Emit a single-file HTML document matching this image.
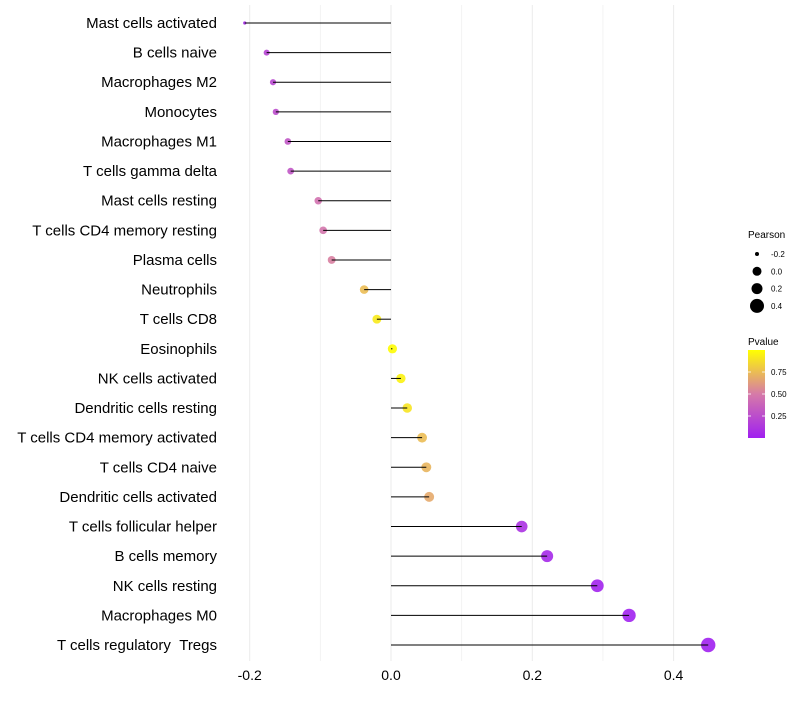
<!DOCTYPE html>
<html><head><meta charset="utf-8"><style>
body{margin:0;background:#fff;font-family:"Liberation Sans",sans-serif}
</style></head><body>
<svg id="c" width="800" height="700" xmlns="http://www.w3.org/2000/svg"></svg>
<script>
const categories=["Mast cells activated","B cells naive","Macrophages M2","Monocytes","Macrophages M1","T cells gamma delta","Mast cells resting","T cells CD4 memory resting","Plasma cells","Neutrophils","T cells CD8","Eosinophils","NK cells activated","Dendritic cells resting","T cells CD4 memory activated","T cells CD4 naive","Dendritic cells activated","T cells follicular helper","B cells memory","NK cells resting","Macrophages M0","T cells regulatory\u00a0\u00a0Tregs"];
const pearson=[-0.207,-0.176,-0.167,-0.163,-0.146,-0.142,-0.103,-0.096,-0.084,-0.038,-0.020,0.002,0.014,0.023,0.044,0.050,0.054,0.185,0.221,0.292,0.337,0.449];
const pvalue=[0.05,0.2,0.22,0.25,0.3,0.3,0.45,0.47,0.52,0.75,0.92,0.99,0.95,0.9,0.75,0.72,0.68,0.1,0.05,0.02,0.01,0.001];
const xTicks=[-0.2,0,0.2,0.4];
const xTickLabels=["-0.2","0.0","0.2","0.4"];
const minorTicks=[-0.1,0.1,0.3];
const sizeLegend=[-0.2,0,0.2,0.4];
const pTicks=[0.25,0.5,0.75];

const svg=document.getElementById('c');
const NS="http://www.w3.org/2000/svg";
function el(t,a,p){const e=document.createElementNS(NS,t);for(const k in a)e.setAttribute(k,a[k]);(p||svg).appendChild(e);return e;}
const x=v=>391+v*706.5;
const y=i=>23+i*(622/21);
function rad(v){if(v<-0.176){const t=Math.max(0,(v+0.21)/0.034);return 1.5+t*1.5;}
 return Math.sqrt(9+68.7*(v+0.176));}
function legRad(i){return [2,4.5,5.5,7][i];}
function col(p){const a=[160,32,240],m=[214,122,168],b=[255,255,0];let c;
 if(p<0.5){const t=p/0.5;c=a.map((v,i)=>v+t*(m[i]-v));}else{const t=(p-0.5)/0.5;c=m.map((v,i)=>v+t*(b[i]-v));}
 return `rgb(${c.map(Math.round).join(',')})`;}

minorTicks.forEach(v=>{const l=el('line',{x1:x(v),x2:x(v),y1:5,y2:661,stroke:'#f0f0f0','stroke-width':0.8});
});
xTicks.forEach((v,i)=>{const l=el('line',{x1:x(v),x2:x(v),y1:5,y2:661,stroke:'#ebebeb','stroke-width':1});

const t=el('text',{x:x(v),y:680,'text-anchor':'middle','font-size':14,fill:'#000'});t.textContent=xTickLabels[i];
});

categories.forEach((c,i)=>{
 const t=el('text',{x:217,y:y(i)+5,'text-anchor':'end','font-size':15,fill:'#000'});t.textContent=c;
 
 const d=el('circle',{cx:x(pearson[i]),cy:y(i),r:rad(pearson[i]),fill:col(pvalue[i]),'fill-opacity':0.9});
 
 const l=el('line',{x1:x(0),x2:x(pearson[i]),y1:y(i),y2:y(i),stroke:'#000','stroke-width':1});
 
});

let t=el('text',{x:748,y:238,'font-size':10,fill:'#000'});t.textContent="Pearson";

sizeLegend.forEach((v,i)=>{const yy=254+i*17.3;
 const c=el('circle',{cx:757,cy:yy,r:legRad(i),fill:'#000'});
 const tt=el('text',{x:771,y:yy+3,'font-size':8,fill:'#000'});tt.textContent=v.toFixed(1);
 });
t=el('text',{x:748,y:345,'font-size':10,fill:'#000'});t.textContent="Pvalue";

const defs=el('defs',{});const g=el('linearGradient',{id:'pg',x1:0,y1:1,x2:0,y2:0},defs);
[0,0.5,1].forEach(o=>el('stop',{offset:o,'stop-color':col(o)},g));
const r=el('rect',{x:748,y:350,width:17,height:88,fill:'url(#pg)'});

pTicks.forEach(p=>{const yy=438-p*88;
 el('line',{x1:748,x2:751,y1:yy,y2:yy,stroke:'#fff','stroke-width':0.8});el('line',{x1:762,x2:765,y1:yy,y2:yy,stroke:'#fff','stroke-width':0.8});
 const tt=el('text',{x:771,y:yy+3,'font-size':8,fill:'#000'});tt.textContent=p.toFixed(2);
 });
</script>
</body></html>
